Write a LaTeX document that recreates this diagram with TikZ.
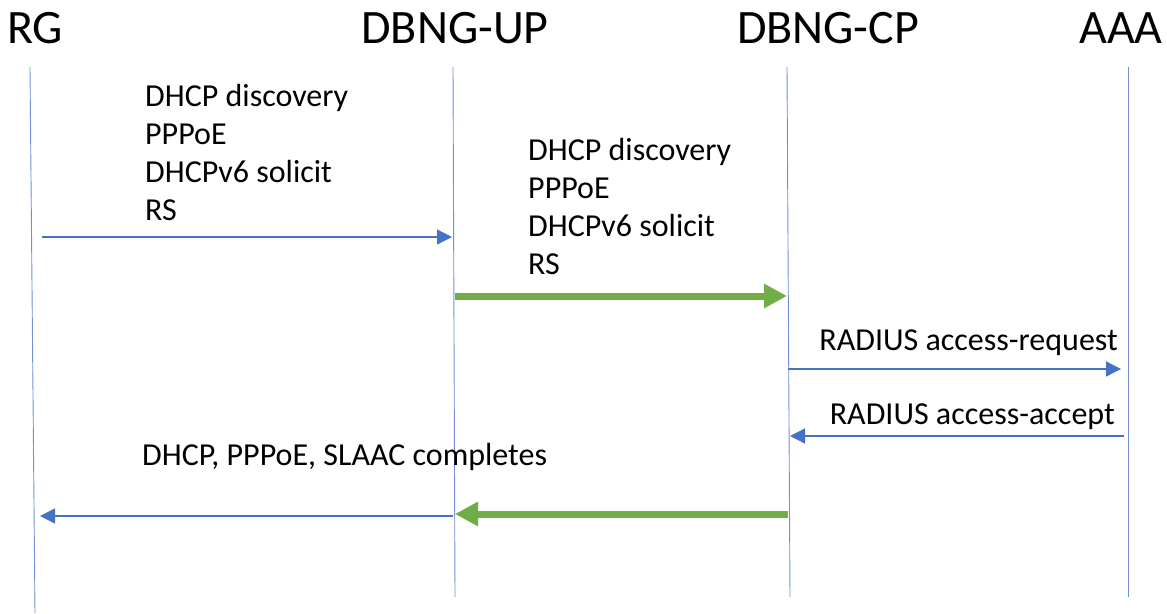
\documentclass[tikz,border=0pt]{standalone}
\usepackage{fontspec}
\setmainfont{Carlito}
\usetikzlibrary{arrows.meta}
\definecolor{lifeblue}{HTML}{6F8FD6}
\definecolor{msgblue}{HTML}{4472C4}
\definecolor{msggreen}{HTML}{70AD47}
\tikzset{
  party/.style={font=\fontsize{48}{56}\selectfont, anchor=base, inner sep=0pt},
  msgtext/.style={font=\fontsize{32}{38}\selectfont, inner sep=0pt},
  lifeline/.style={draw=lifeblue, line width=0.9pt},
  thinmsg/.style={draw=msgblue, line width=1.3pt,
    -{Triangle[length=15pt,width=15pt]}, color=msgblue},
  thickmsg/.style={draw=msggreen, line width=7pt,
    -{Triangle[length=23pt,width=23pt]}, color=msggreen},
}
\begin{document}
\begin{tikzpicture}[x=1pt, y=-1pt]
\useasboundingbox (0,0) rectangle (1167,613);

% participants
\node[party] (rg)  at (35,43)   {RG};
\node[party] (up)  at (455,43)  {DBNG-UP};
\node[party] (cp)  at (828,43)  {DBNG-CP};
\node[party] (aaa) at (1121,43) {AAA};

% lifelines
\coordinate (rg-t)  at (30,67);   \coordinate (rg-b)  at (35,613);
\coordinate (up-t)  at (453,67);  \coordinate (up-b)  at (455,597);
\coordinate (cp-t)  at (787,67);  \coordinate (cp-b)  at (790,597);
\coordinate (aaa-t) at (1128,67); \coordinate (aaa-b) at (1128,597);
\draw[lifeline] (rg-t) -- (rg-b);
\draw[lifeline] (up-t) -- (up-b);
\draw[lifeline] (cp-t) -- (cp-b);
\draw[lifeline] (aaa-t) -- (aaa-b);

% message end points
\coordinate (m1-s) at (42,237);   \coordinate (m1-e) at (452,237);
\coordinate (m2-s) at (455,296);  \coordinate (m2-e) at (787,296);
\coordinate (m3-s) at (788,369);  \coordinate (m3-e) at (1121,369);
\coordinate (m4-s) at (1124,436); \coordinate (m4-e) at (790,436);
\coordinate (m5-s) at (788,514);  \coordinate (m5-e) at (455,514);
\coordinate (m6-s) at (453,516);  \coordinate (m6-e) at (40,516);

% messages
\draw[thinmsg]  (m1-s) -- (m1-e);
\draw[thickmsg] (m2-s) -- (m2-e);
\draw[thinmsg]  (m3-s) -- (m3-e);
\draw[thinmsg]  (m4-s) -- (m4-e);
\draw[thickmsg] (m5-s) -- (m5-e);
\draw[thinmsg]  (m6-s) -- (m6-e);

% labels (multi-line blocks are placed by the baseline of their last line)
\node[msgtext, anchor=base west, align=left] (l1) at (145,220)
  {DHCP discovery\\PPPoE\\DHCPv6 solicit\\RS};
\node[msgtext, anchor=base west, align=left] (l2) at (528,274)
  {DHCP discovery\\PPPoE\\DHCPv6 solicit\\RS};
\node[msgtext, anchor=base east] (l3) at (1118,350) {RADIUS access-request};
\node[msgtext, anchor=base east] (l4) at (1115,424) {RADIUS access-accept};
\node[msgtext, anchor=base west] (l5) at (142,465) {DHCP, PPPoE, SLAAC completes};
\end{tikzpicture}
\end{document}
